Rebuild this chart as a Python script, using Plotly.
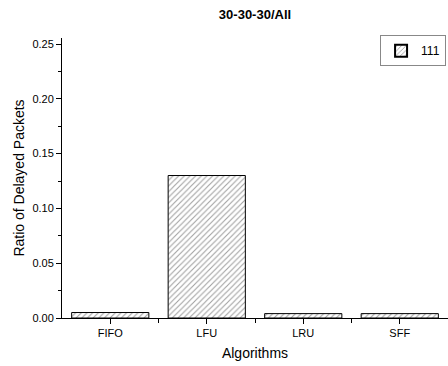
import plotly.graph_objects as go

# Ratio of delayed packets per cache-replacement algorithm
categories = ["FIFO", "LFU", "LRU", "SFF"]
ratio_delayed = [0.005, 0.130, 0.004, 0.004]
series_name = "111"
y_tick_vals = [0.00, 0.05, 0.10, 0.15, 0.20, 0.25]

positions = list(range(len(categories)))
boundaries = [p + 0.5 for p in positions[:-1]]

font_family = "Arial, Liberation Sans, sans-serif"

fig = go.Figure()
fig.add_trace(go.Bar(
    x=positions,
    y=ratio_delayed,
    name=series_name,
    width=0.8,
    marker=dict(
        color="white",
        line=dict(color="black", width=1),
        pattern=dict(shape="/", size=4, solidity=0.28,
                     fgcolor="#444444", bgcolor="white"),
    ),
    showlegend=True,
))

fig.update_layout(
    width=448,
    height=366,
    margin=dict(l=62, r=0, t=38, b=48),
    paper_bgcolor="white",
    plot_bgcolor="white",
    font=dict(family=font_family, size=11, color="black"),
    title=dict(
        text="<b>30-30-30/All</b>",
        font=dict(family=font_family, size=13, color="black"),
        x=0.5, xref="paper", xanchor="center",
        y=1 - 14 / 366, yref="container", yanchor="middle",
    ),
    showlegend=True,
    legend=dict(
        x=0.995, y=1.01, xanchor="right", yanchor="top",
        bordercolor="#888888", borderwidth=1,
        bgcolor="white",
        font=dict(family=font_family, size=12, color="black"),
        itemsizing="constant",
        tracegroupgap=0,
    ),
    bargap=0.2,
)

fig.update_xaxes(
    range=[-0.5, 3.5],
    tickmode="array",
    tickvals=positions,
    ticktext=categories,
    ticks="outside", ticklen=5, tickwidth=1, tickcolor="black",
    minor=dict(tickmode="array", tickvals=boundaries, ticks="outside",
               ticklen=4, tickwidth=1, tickcolor="black"),
    showline=True, linecolor="black", linewidth=1,
    showgrid=False, zeroline=False,
    tickfont=dict(family=font_family, size=11),
    title=dict(text="Algorithms", font=dict(family=font_family, size=14),
               standoff=9),
)

fig.update_yaxes(
    range=[0, 0.2555],
    tickmode="array",
    tickvals=y_tick_vals,
    tickformat=".2f",
    ticks="outside", ticklen=5, tickwidth=1, tickcolor="black",
    minor=dict(dtick=0.025, tick0=0, ticks="outside", ticklen=3,
               tickwidth=1, tickcolor="black"),
    showline=True, linecolor="black", linewidth=1,
    showgrid=False, zeroline=False,
    tickfont=dict(family=font_family, size=11),
    title=dict(text="Ratio of Delayed Packets",
               font=dict(family=font_family, size=14), standoff=4),
)

fig.write_html("out.html")
